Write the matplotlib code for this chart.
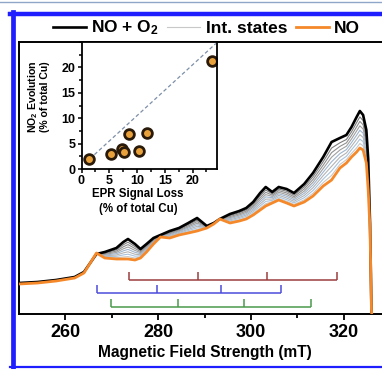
import numpy as np
import matplotlib.pyplot as plt
from matplotlib.lines import Line2D

plt.rcParams['font.family'] = ['Liberation Sans', 'DejaVu Sans']
plt.rcParams['font.weight'] = 'bold'
plt.rcParams['axes.labelweight'] = 'bold'
plt.rcParams['mathtext.fontset'] = 'custom'
plt.rcParams['mathtext.rm'] = 'Liberation Sans:bold'
plt.rcParams['mathtext.default'] = 'regular'

# EPR spectra (magnetic field in mT, signal in arbitrary units)
field = [250, 254, 258, 262, 264, 265.5, 266.7, 268.5, 271, 272.5, 273.5, 275, 276.2,
         277.5, 279, 280.5, 282.5, 284.5, 286.5, 288.4, 290.5, 292, 293.3, 295.5,
         297.5, 299, 300.5, 302, 303.2, 304.6, 306, 307.7, 309.3, 311.5, 313.4,
         315.6, 317.4, 319.2, 320.6, 321.7, 322.8, 323.5, 324.2, 324.9, 325.3,
         325.7, 326, 326.5]
no_o2 = [31, 32, 34, 37, 42, 52, 60, 62, 66, 72, 75, 70, 65,
         70, 76, 79, 83, 86, 91, 96, 88, 91, 95, 100,
         103, 106, 112, 121, 127, 122, 127, 125, 121, 130, 141,
         157, 172, 176, 179, 187, 197, 203, 199, 184, 155,
         90, 4, -30]
no_only = [30, 31, 33, 36, 41, 52, 61, 56, 55, 55, 55, 54, 56,
           62, 70, 77, 76, 79, 81, 83, 86, 90, 95, 91,
           93, 95, 99, 104, 108, 111, 114, 111, 108, 112, 118,
           128, 134, 146, 151, 157, 162, 166, 164, 151, 124,
           84, 4, -30]
# where each intermediate state sits between NO (0) and NO + O2 (1)
int_weights = [0.12, 0.24, 0.36, 0.48, 0.6, 0.72, 0.84]
int_colors = ['#c8c8c8', '#a9c3dc', '#b4b4b4', '#9fb6cf', '#a0a0a0', '#8f8f8f', '#7d7d7d']

# hyperfine stick positions (mT)
red_lines = [273.8, 288.6, 303.5, 318.5]
blue_lines = [266.9, 279.7, 293.5, 306.6]
green_lines = [269.8, 284.2, 298.5, 312.9]

# inset data
epr_loss = [1.3, 5.3, 7.3, 7.7, 8.5, 10.4, 11.8, 23.5]
no2_evol = [1.9, 2.9, 3.9, 3.4, 6.8, 3.6, 7.0, 21.2]
guide_x = [1.5, 24.2]
guide_y = [2.0, 24.7]

fig = plt.figure(figsize=(3.82, 3.69), dpi=100)
ax = fig.add_axes([19 / 382, 55 / 369, 371 / 382, 272 / 369])

black = np.array(no_o2)
orange = np.array(no_only)
grey_handle = None
for w, c in zip(int_weights, int_colors):
    ln, = ax.plot(field, orange + w * (black - orange), color=c, lw=0.8, zorder=2)
    if grey_handle is None:
        grey_handle = ln
l_black, = ax.plot(field, no_o2, color='black', lw=1.9, zorder=3)
l_orange, = ax.plot(field, no_only, color='#f5892a', lw=2.0, zorder=4)

for pos, col, lvl in [(red_lines, '#9c3d3d', 34), (blue_lines, '#4b4bdc', 20.7),
                      (green_lines, '#4a9a4a', 6.7)]:
    ax.hlines(lvl, pos[0], pos[-1], color=col, lw=1.1)
    ax.vlines(pos, lvl, lvl + 8, color=col, lw=1.1)

ax.set_xlim(250, 330)
ax.set_ylim(0, 272)
ax.set_xticks([260, 280, 300, 320])
ax.set_xticks([270, 290, 310], minor=True)
ax.set_yticks([])
ax.tick_params(axis='x', which='both', direction='out', width=1.3, labelsize=13, pad=3.5)
ax.tick_params(axis='x', which='major', length=4)
ax.tick_params(axis='x', which='minor', length=3)
for s in ax.spines.values():
    s.set_linewidth(1.4)
ax.set_xlabel('Magnetic Field Strength (mT)', fontsize=11.2, labelpad=2.5)

# inset
ins = fig.add_axes([81.5 / 382, 200 / 369, 136 / 382, 127 / 369])
ins.plot(guide_x, guide_y, ls=(0, (3, 2)), color='#7d8fa8', lw=0.9)
ins.plot(epr_loss, no2_evol, 'o', ms=7, mfc='#e9a23b', mec='#2a1a0a', mew=2.0)
ins.set_xlim(0, 24.5)
ins.set_ylim(0, 25)
ins.set_xticks([0, 5, 10, 15, 20])
ins.set_yticks([0, 5, 10, 15, 20])
ins.set_xticks(np.arange(0, 25, 2.5), minor=True)
ins.set_yticks(np.arange(0, 25.1, 2.5), minor=True)
ins.tick_params(which='both', direction='out', width=1.1, labelsize=9, pad=1.5)
ins.tick_params(which='major', length=3)
ins.tick_params(which='minor', length=2)
for s in ins.spines.values():
    s.set_linewidth(1.3)
ins.set_ylabel('NO$_2$ Evolution\n(% of total Cu)', fontsize=7.6, linespacing=1.0)
ins.yaxis.set_label_coords(-0.23, 0.567)
ins.set_xlabel('EPR Signal Loss\n(% of total Cu)', fontsize=8.3, linespacing=1.3)
ins.xaxis.set_label_coords(0.415, -0.15)

fig.legend([l_black, grey_handle, l_orange], ['NO + O$_2$', 'Int. states', 'NO'],
           loc='center', bbox_to_anchor=(0.54, 0.924), ncol=3, frameon=False,
           fontsize=12.5, handlelength=1.9, handletextpad=0.3, columnspacing=0.5,
           borderaxespad=0, borderpad=0)

# page frame
fig.add_artist(Line2D([0, 1], [1 - 2 / 369, 1 - 2 / 369], transform=fig.transFigure,
                      color='#8fa6c8', lw=1.0))
fig.add_artist(Line2D([12.5 / 382, 12.5 / 382], [1 - 12 / 369, 1 - 368 / 369],
                      transform=fig.transFigure, color='#1e1eff', lw=3.4))
fig.add_artist(Line2D([10 / 382, 1], [1 - 14.3 / 369, 1 - 14.3 / 369],
                      transform=fig.transFigure, color='#1e1eff', lw=3.2))
fig.add_artist(Line2D([10 / 382, 1], [1 - 367.3 / 369, 1 - 367.3 / 369],
                      transform=fig.transFigure, color='#1e1eff', lw=1.6))

fig.savefig('out.png', dpi=100)
